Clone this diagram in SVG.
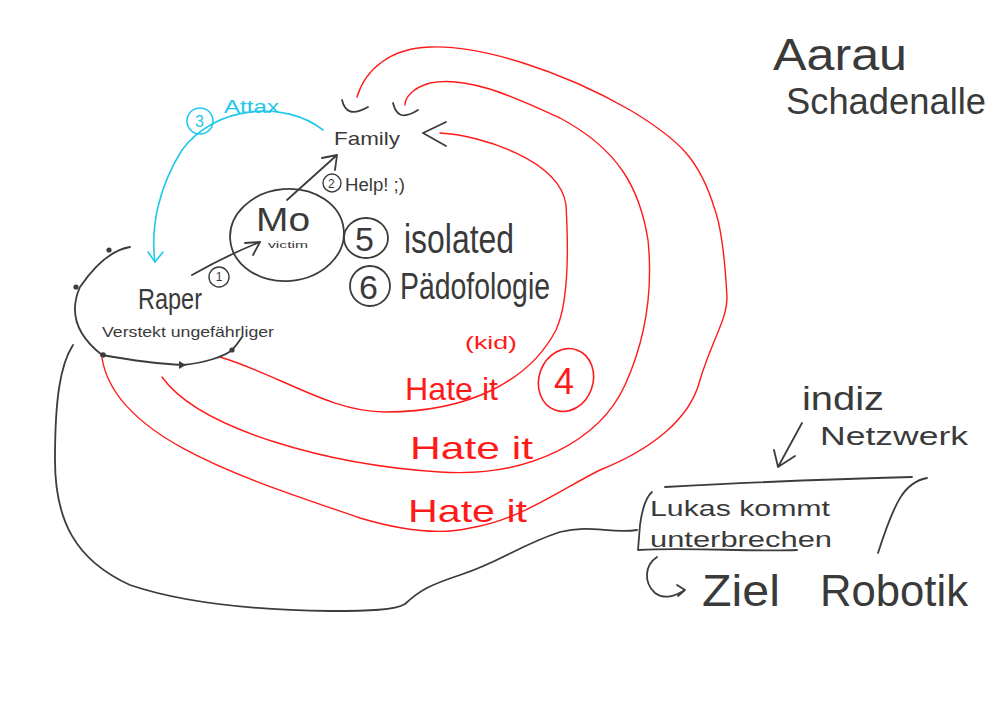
<svg xmlns="http://www.w3.org/2000/svg" width="1000" height="707" viewBox="0 0 1000 707">
<style>
.k{fill:none;stroke:#3c3c3c;stroke-width:1.8;stroke-linecap:round;stroke-linejoin:round}
.r{fill:none;stroke:#ff1a1a;stroke-width:1.4;stroke-linecap:round;stroke-linejoin:round}
.c{fill:none;stroke:#22c8ea;stroke-width:1.6;stroke-linecap:round;stroke-linejoin:round}
.t{font-family:"Liberation Sans",Arial,sans-serif;fill:#3a3a3a}
.tr{font-family:"Liberation Sans",Arial,sans-serif;fill:#ff1a1a}
.tc{font-family:"Liberation Sans",Arial,sans-serif;fill:#22c8ea}
</style>
<rect width="1000" height="707" fill="#ffffff"/>
<g id="connectors">
  <path class="r" d="M220,357 C280,375 330,412 385,412 C470,412 530,380 556,330 C570,300 568,240 566,205 C560,160 480,135 440,133"/>
  <path class="k" d="M423,133 L446,122 M423,133 L446,146"/>
  <path class="r" d="M162,377 C200,430 330,465 440,472 C530,478 600,440 625,385 C650,330 652,280 648,240 C640,190 620,150 560,118 C520,100 470,75 430,83 C412,88 405,98 405,105"/>
  <path class="k" d="M393,103 C396,115 402,120 418,110"/>
  <path class="r" d="M102,358 C115,440 250,480 360,518 C400,530 440,535 470,528 C520,520 560,490 600,470 C650,450 690,420 700,380 C712,340 727,320 727,297 C725,260 722,230 715,210 C700,160 680,140 630,110 C560,70 480,45 430,47 C390,48 365,70 357,97"/>
  <path class="k" d="M342,100 C345,112 352,116 368,107"/>
  <path class="k" d="M130,247 C112,250 95,265 80,287 C72,305 70,330 102,355 C130,360 160,364 183,365 C205,363 225,356 232,350 C237,345 240,340 242,337"/>
  <circle cx="109" cy="250" r="2.6" fill="#3c3c3c"/>
  <circle cx="76" cy="287" r="2.6" fill="#3c3c3c"/>
  <circle cx="103" cy="355" r="2.8" fill="#3c3c3c"/>
  <path d="M179,361 L186,365 L179,369 Z" fill="#3c3c3c"/>
  <circle cx="232" cy="350" r="2.6" fill="#3c3c3c"/>
  <path class="k" d="M73,345 C60,365 55,400 55,460 C55,520 75,560 130,585 C180,602 250,610 330,611 C370,611 395,610 405,604 C420,590 430,585 460,575 C500,562 520,545 560,532 C590,524 610,534 637,530"/>
  <path class="c" d="M323,130 C285,100 215,105 182,150 C160,185 150,225 155,262"/>
  <path class="c" d="M148,252 L155,262 L163,252"/>
  <path class="k" d="M287,200 L337,155 M337,155 L322,158 M337,155 L335,170"/>
  <path class="k" d="M192,275 C215,262 240,250 260,242 M260,242 L245,243 M260,242 L253,255"/>
  <path class="k" d="M802,423 L778,467 M778,467 L774,450 M778,467 L795,456"/>
  <path class="k" d="M665,487 C740,483 830,479 912,477"/>
  <path class="k" d="M927,478 C905,482 895,500 878,553"/>
  <path class="k" d="M652,492 C645,498 642,510 640,525 L638,550 C690,547 750,552 797,550"/>
  <path class="k" d="M657,557 C645,565 643,582 655,593 C665,600 675,596 685,590 M677,585 L685,590 L678,596"/>
</g>
<g id="node-family"><text class="t" x="334" y="145" font-size="19" textLength="66" lengthAdjust="spacingAndGlyphs">Family</text></g>
<g id="node-attax">
  <circle class="c" cx="200" cy="121" r="13"/>
  <text class="tc" x="195" y="127" font-size="16">3</text>
  <text class="tc" x="224" y="113" font-size="19" textLength="55" lengthAdjust="spacingAndGlyphs">Attax</text>
</g>
<g id="node-help">
  <circle class="k" cx="332" cy="183" r="9" style="stroke-width:1.4"/>
  <text class="t" x="328" y="188" font-size="12">2</text>
  <text class="t" x="345" y="191" font-size="18" textLength="60" lengthAdjust="spacingAndGlyphs">Help! ;)</text>
</g>
<g id="node-mo">
  <ellipse class="k" cx="287" cy="235" rx="57" ry="46" transform="rotate(-5 287 235)"/>
  <text class="t" x="256" y="231" font-size="34" textLength="54" lengthAdjust="spacingAndGlyphs">Mo</text>
  <text class="t" x="268" y="248" font-size="9" textLength="40" lengthAdjust="spacingAndGlyphs">victim</text>
</g>
<g id="node-step1">
  <circle class="k" cx="219" cy="277" r="10" style="stroke-width:1.4"/>
  <text class="t" x="219" y="281" font-size="12" text-anchor="middle">1</text>
</g>
<g id="node-raper">
  <text class="t" x="138" y="309" font-size="29" textLength="64" lengthAdjust="spacingAndGlyphs">Raper</text>
  <text class="t" x="102" y="337" font-size="15" textLength="172" lengthAdjust="spacingAndGlyphs">Verstekt ungefährliger</text>
</g>
<g id="node-isolated">
  <ellipse class="k" cx="366" cy="238" rx="22" ry="20"/>
  <text class="t" x="355" y="251" font-size="34">5</text>
  <text class="t" x="404" y="253" font-size="40" textLength="110" lengthAdjust="spacingAndGlyphs">isolated</text>
</g>
<g id="node-paedo">
  <circle class="k" cx="370" cy="286" r="20"/>
  <text class="t" x="359" y="299" font-size="34">6</text>
  <text class="t" x="400" y="299" font-size="36" textLength="150" lengthAdjust="spacingAndGlyphs">Pädofologie</text>
</g>
<g id="node-hate">
  <text class="tr" x="465" y="349" font-size="19" textLength="52" lengthAdjust="spacingAndGlyphs">(kid)</text>
  <text class="tr" x="405" y="400" font-size="32" textLength="93" lengthAdjust="spacingAndGlyphs">Hate it</text>
  <ellipse class="r" cx="566" cy="380" rx="27" ry="32" transform="rotate(20 566 380)" style="stroke-width:1.6"/>
  <text class="tr" x="554" y="394" font-size="36">4</text>
  <text class="tr" x="410" y="459" font-size="32" textLength="123" lengthAdjust="spacingAndGlyphs">Hate it</text>
  <text class="tr" x="408" y="522" font-size="32" textLength="119" lengthAdjust="spacingAndGlyphs">Hate it</text>
</g>
<g id="node-indiz">
  <text class="t" x="802" y="410" font-size="34" textLength="82" lengthAdjust="spacingAndGlyphs">indiz</text>
  <text class="t" x="820" y="445" font-size="25" textLength="148" lengthAdjust="spacingAndGlyphs">Netzwerk</text>
</g>
<g id="node-lukas">
  <text class="t" x="650" y="516" font-size="22" textLength="180" lengthAdjust="spacingAndGlyphs">Lukas kommt</text>
  <text class="t" x="650" y="547" font-size="22" textLength="182" lengthAdjust="spacingAndGlyphs">unterbrechen</text>
  <text class="t" x="702" y="606" font-size="44" textLength="78" lengthAdjust="spacingAndGlyphs">Ziel</text>
  <text class="t" x="820" y="606" font-size="44" textLength="148" lengthAdjust="spacingAndGlyphs">Robotik</text>
</g>
<g id="node-title">
  <text class="t" x="773" y="70" font-size="44" textLength="134" lengthAdjust="spacingAndGlyphs">Aarau</text>
  <text class="t" x="786" y="114" font-size="36" textLength="200" lengthAdjust="spacingAndGlyphs">Schadenalle</text>
</g>
</svg>
